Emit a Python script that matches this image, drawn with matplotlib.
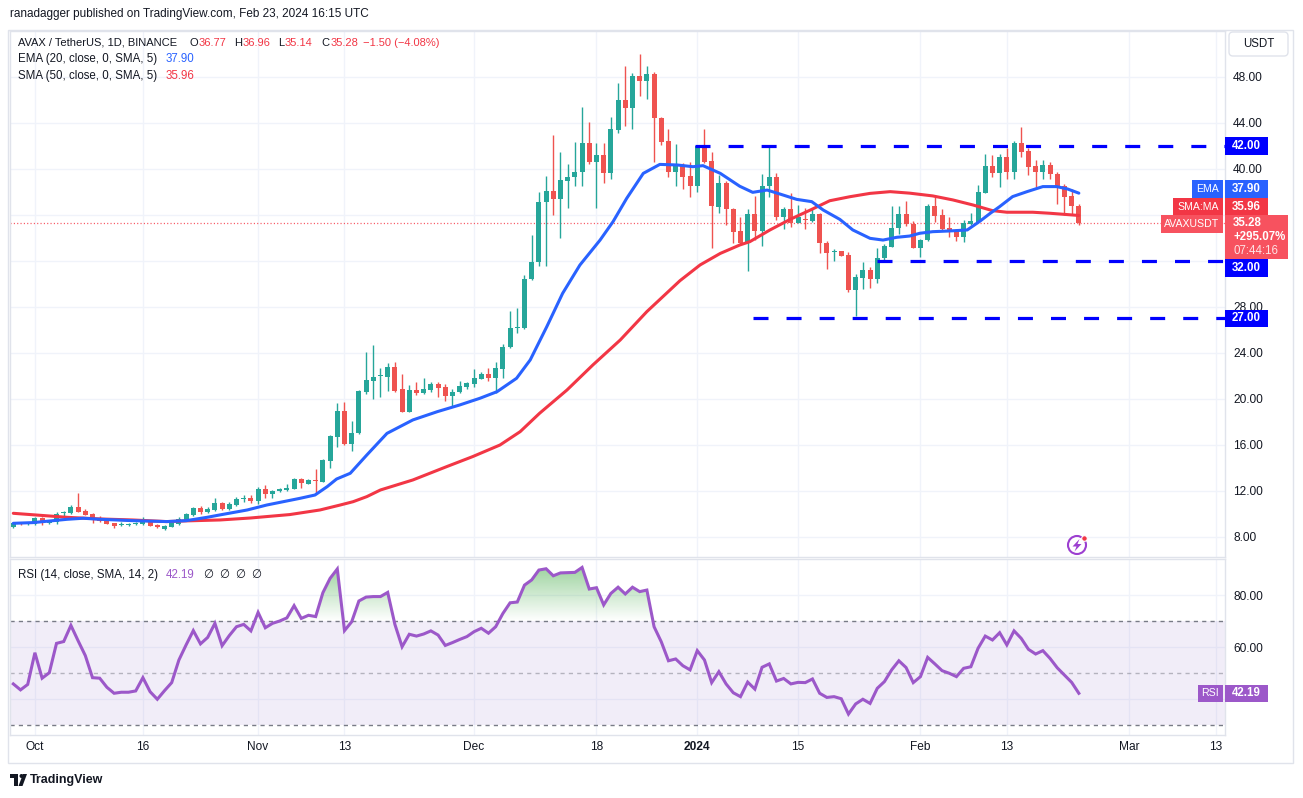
import numpy as np
import pandas as pd
import matplotlib
matplotlib.use("Agg")
import matplotlib.pyplot as plt
from matplotlib.patches import Rectangle, Circle, Polygon, FancyBboxPatch
from matplotlib.path import Path
from matplotlib.transforms import Affine2D

plt.rcParams["font.family"] = ["Liberation Sans", "DejaVu Sans"]
plt.rcParams["lines.scale_dashes"] = False

# ---- values (AVAX/USDT daily) ----
start_date = "2023-09-28"

opens = [8.84, 9.25, 9.13, 9.11, 9.63, 9.19, 9.28, 10.06, 10.06, 10.58,
         10.23, 9.97, 9.54, 9.48, 9.19, 9.00, 9.05, 9.11, 9.11, 9.28,
         9.08, 8.73, 8.90, 9.11, 9.48, 9.92, 10.50, 10.15, 10.35, 10.93,
         10.43, 10.78, 11.33, 11.39, 11.16, 12.17, 11.74, 12.00, 12.09, 12.20,
         13.01, 12.64, 12.94, 12.81, 14.64, 16.72, 18.96, 16.06, 17.00, 20.64,
         21.60, 21.97, 21.94, 22.76, 20.84, 18.90, 20.78, 20.55, 20.78, 21.30,
         21.07, 20.26, 20.58, 21.07, 21.30, 21.77, 22.14, 21.86, 22.58, 24.49,
         26.20, 26.20, 30.40, 31.88, 37.10, 38.09, 37.42, 38.98, 39.27, 39.71,
         42.29, 40.63, 41.22, 39.68, 43.42, 46.00, 45.33, 48.08, 47.68, 48.26,
         44.40, 42.43, 39.77, 40.29, 39.39, 38.55, 42.00, 40.69, 36.72, 38.75,
         36.49, 34.60, 33.59, 36.09, 34.64, 38.52, 39.27, 35.85, 36.52, 35.27,
         35.62, 35.50, 36.09, 33.54, 32.76, 32.87, 32.52, 29.48, 30.55, 31.22,
         30.43, 32.23, 33.24, 34.84, 36.09, 35.22, 33.16, 33.83, 36.79, 36.00,
         34.84, 34.61, 34.12, 35.19, 35.42, 37.95, 40.29, 39.69, 41.08, 39.71,
         42.24, 41.57, 40.27, 39.77, 40.35, 39.54, 38.55, 37.66, 36.77]
highs = [9.34, 9.34, 9.25, 9.71, 9.71, 9.40, 10.20, 10.30, 10.79, 11.86,
         10.41, 10.06, 9.83, 9.54, 9.25, 9.34, 9.19, 9.28, 9.71, 9.34,
         9.13, 9.05, 9.34, 9.71, 10.06, 10.64, 10.70, 10.58, 11.37, 11.07,
         11.01, 11.51, 11.65, 11.65, 12.32, 12.52, 12.09, 12.26, 12.61, 13.16,
         13.10, 13.04, 13.91, 14.78, 16.87, 19.68, 19.77, 18.12, 20.78, 24.06,
         24.70, 22.72, 23.10, 23.20, 22.20, 21.20, 21.51, 21.80, 21.45, 21.45,
         21.27, 20.87, 21.57, 21.51, 22.58, 22.38, 22.67, 23.25, 24.75, 27.65,
         27.88, 30.78, 34.26, 37.97, 39.40, 42.96, 41.45, 40.43, 42.37, 45.42,
         44.11, 42.29, 42.29, 44.55, 47.50, 48.95, 48.32, 49.98, 48.95, 48.46,
         44.50, 43.48, 42.17, 40.49, 40.58, 42.08, 43.48, 41.45, 39.48, 38.96,
         36.60, 35.80, 36.52, 37.65, 39.56, 41.94, 39.62, 36.67, 37.88, 36.87,
         36.58, 36.49, 36.15, 33.74, 33.04, 32.90, 32.75, 30.87, 31.88, 31.51,
         33.16, 33.50, 36.78, 36.78, 37.22, 35.51, 33.90, 36.93, 37.60, 36.50,
         35.86, 34.79, 35.57, 36.15, 38.61, 41.31, 41.22, 41.31, 41.86, 42.47,
         43.63, 41.86, 40.79, 40.79, 40.64, 39.77, 38.67, 38.27, 36.96]
lows = [8.76, 9.02, 9.08, 9.05, 9.05, 9.13, 9.11, 9.83, 10.00, 10.15,
        9.89, 9.25, 9.28, 9.13, 8.82, 8.99, 8.99, 9.05, 9.05, 8.96,
        8.82, 8.64, 8.85, 9.05, 9.42, 9.83, 9.97, 10.12, 10.29, 10.35,
        10.35, 10.72, 11.01, 10.93, 10.87, 11.42, 11.42, 11.91, 12.03, 12.17,
        12.29, 12.58, 11.80, 12.75, 13.97, 15.86, 16.00, 15.50, 16.96, 20.43,
        20.00, 20.20, 20.70, 20.60, 18.85, 18.85, 20.35, 20.43, 20.64, 20.14,
        19.86, 19.42, 20.49, 20.84, 21.07, 21.71, 21.60, 20.50, 21.80, 24.46,
        25.70, 26.06, 30.35, 31.60, 31.60, 36.00, 34.03, 36.58, 38.55, 38.55,
        40.40, 36.58, 38.80, 39.13, 43.16, 43.77, 43.45, 46.37, 46.06, 40.63,
        42.10, 39.33, 38.55, 38.23, 37.60, 38.00, 40.49, 33.10, 36.14, 35.13,
        33.53, 33.39, 31.16, 33.82, 33.33, 37.59, 35.60, 34.75, 34.98, 35.27,
        34.78, 35.42, 32.72, 31.27, 32.03, 32.40, 29.33, 27.25, 29.54, 29.68,
        30.11, 32.10, 33.19, 34.35, 35.08, 33.10, 32.38, 33.74, 35.37, 34.70,
        34.12, 33.74, 33.69, 35.13, 35.37, 37.89, 39.34, 38.47, 39.13, 39.13,
        41.08, 39.48, 38.47, 39.13, 39.13, 36.93, 36.00, 36.09, 35.14]
closes = [9.25, 9.11, 9.19, 9.63, 9.19, 9.34, 9.97, 10.15, 10.58, 10.20,
          9.92, 9.48, 9.42, 9.16, 8.99, 9.02, 9.11, 9.16, 9.40, 8.99,
          8.84, 8.96, 9.25, 9.54, 10.00, 10.50, 10.15, 10.44, 10.93, 10.43,
          10.87, 11.30, 11.36, 11.13, 12.17, 11.77, 12.00, 12.17, 12.26, 13.04,
          12.67, 12.96, 12.90, 14.70, 16.78, 18.96, 16.06, 17.00, 20.70, 21.65,
          21.94, 22.00, 22.78, 20.73, 18.90, 20.78, 20.55, 20.87, 21.30, 20.99,
          20.26, 20.58, 21.13, 21.36, 21.80, 22.14, 21.86, 22.67, 24.49, 26.14,
          26.23, 30.40, 31.88, 37.10, 38.09, 37.42, 39.04, 39.28, 39.77, 42.29,
          40.63, 41.22, 39.68, 43.48, 46.00, 45.33, 48.08, 47.68, 48.26, 44.40,
          42.37, 39.77, 40.29, 39.33, 38.55, 42.00, 40.63, 36.81, 38.75, 36.49,
          34.55, 33.59, 36.09, 34.64, 38.52, 39.27, 35.85, 36.52, 35.27, 35.80,
          35.56, 36.09, 33.54, 32.72, 32.82, 32.43, 29.48, 30.64, 31.22, 30.43,
          32.29, 33.30, 34.90, 36.09, 35.19, 33.16, 33.83, 36.79, 35.95, 34.79,
          34.50, 34.12, 35.28, 35.48, 37.98, 40.29, 39.69, 41.08, 39.71, 42.24,
          41.51, 40.21, 39.77, 40.35, 39.54, 38.47, 37.60, 36.78, 35.28]

rsi = [45.8, 43.5, 45.6, 57.8, 48.0, 50.1, 61.4, 62.1, 68.3, 62.4,
       56.7, 48.2, 48.0, 44.5, 42.2, 42.6, 42.6, 43.1, 48.2, 42.8,
       39.9, 43.2, 46.3, 55.0, 60.8, 66.3, 61.2, 63.7, 69.1, 60.5,
       64.4, 67.8, 68.7, 66.2, 73.3, 67.4, 69.1, 70.0, 71.2, 75.9,
       71.0, 72.2, 71.7, 80.9, 86.4, 90.0, 66.3, 69.7, 77.7, 79.2,
       79.4, 79.4, 81.0, 68.7, 60.1, 64.9, 64.2, 65.0, 66.2, 64.6,
       60.6, 61.7, 62.9, 64.0, 65.9, 67.2, 65.3, 67.8, 72.9, 77.0,
       77.3, 83.8, 85.8, 89.6, 90.1, 87.4, 88.5, 88.6, 88.7, 90.6,
       82.3, 82.8, 76.2, 80.6, 83.0, 80.4, 83.0, 81.3, 81.9, 67.8,
       62.0, 54.7, 55.4, 52.8, 51.2, 58.6, 55.0, 46.3, 50.5, 45.8,
       42.4, 40.9, 46.5, 43.8, 52.2, 53.5, 46.9, 47.9, 45.8, 46.4,
       46.3, 47.7, 42.2, 40.6, 40.9, 40.1, 34.2, 38.1, 39.9, 38.3,
       44.1, 46.7, 51.2, 54.7, 52.1, 46.3, 48.6, 56.0, 53.5, 50.9,
       49.9, 48.6, 51.8, 52.4, 59.5, 64.2, 62.7, 65.5, 60.8, 66.2,
       63.3, 59.1, 57.3, 58.6, 55.6, 52.0, 49.2, 46.4, 42.19]

# EMA 20 and SMA 50 as traced on the chart (day offset from start, value)
ema_day = [0, 2.7, 7.5, 9.7, 12, 16.6, 21.3, 24, 26.9, 28.7, 32.5, 35.2, 39.8,
           41.9, 43.6, 44.9, 46.8, 49.1, 51.9, 55.5, 58.9, 62, 64.8, 67.2, 69.9,
           71.8, 74.1, 76.3, 78.7, 81.5, 83.3, 85.2, 87.5, 89.8, 92.2, 94.4, 95.8,
           98.2, 100.9, 102.7, 104.7, 106.5, 108.8, 110.9, 112.5, 114.8, 116.6,
           119, 120.8, 122.7, 124.5, 125.9, 127.7, 130, 132.5, 134.3, 135.7, 137,
           138.8, 140.8, 143, 144.9, 146.4, 148]
ema_val = [9.19, 9.25, 9.54, 9.63, 9.54, 9.42, 9.34, 9.42, 9.71, 9.92, 10.35,
           10.78, 11.36, 11.65, 12.38, 13.04, 13.54, 15.13, 17.01, 18.18, 18.90,
           19.48, 20.06, 20.64, 21.80, 23.40, 26.29, 29.19, 31.65, 33.82, 35.42,
           37.45, 39.62, 40.40, 40.35, 40.20, 40.29, 39.62, 38.50, 37.97, 38.17,
           37.82, 37.36, 37.16, 36.43, 35.62, 34.70, 33.97, 33.82, 34.06, 34.17,
           34.41, 34.55, 34.61, 34.70, 35.48, 36.15, 36.73, 37.60, 38.03, 38.47,
           38.47, 38.27, 37.90]
sma_day = [0, 7.5, 12, 16.6, 21.3, 24, 28.7, 32.9, 38.4, 42.6, 45.4, 47.2, 49.1,
           51, 55.5, 60.2, 63.8, 67.6, 70.4, 73.1, 76.9, 80.5, 84.3, 88, 92.6,
           95.4, 98.2, 100.9, 102.3, 105.1, 107.9, 110.7, 113.4, 116.2, 119,
           121.8, 124.5, 127.7, 130.5, 133.3, 136, 138, 141.6, 144, 148]
sma_val = [10.06, 9.71, 9.57, 9.48, 9.34, 9.40, 9.48, 9.65, 9.95, 10.35, 10.78,
           11.07, 11.51, 12.09, 12.96, 14.12, 14.99, 16.00, 17.16, 18.76, 20.78,
           22.96, 25.13, 27.60, 30.29, 31.66, 32.66, 33.39, 33.68, 34.70, 35.62,
           36.43, 37.24, 37.59, 37.88, 38.03, 37.90, 37.66, 37.31, 36.87, 36.38,
           36.24, 36.24, 36.15, 35.96]

levels = [42.0, 32.0, 27.0]
level_from = [94.7, 119.9, 102.7]

tick_dates = ["2023-10-01", "2023-10-16", "2023-11-01", "2023-11-13", "2023-12-01",
              "2023-12-18", "2024-01-01", "2024-01-15", "2024-02-01", "2024-02-13",
              "2024-03-01", "2024-03-13"]
tick_labels = ["Oct", "16", "Nov", "13", "Dec", "18", "2024", "15", "Feb", "13",
               "Mar", "13"]
price_ticks = [8, 12, 16, 20, 24, 28, 32, 36, 40, 44, 48]
price_hidden = [32, 36]          # covered by the tags on the price scale
rsi_ticks = [40, 60, 80]
rsi_hidden = [40]

ema_last, sma_last, rsi_last = 37.90, 35.96, 42.19
change_text = "+295.07%"
countdown = "07:44:16"

# ---- colours ----
GREEN, RED = "#26A69A", "#EF5350"
EMA_C, SMA_C = "#2962FF", "#F23645"
PRICE_C = "#F7525F"
LEVEL_C = "#0000FF"
RSI_C = "#9C58C9"
TXT = "#131722"
GRID = "#f0f3fa"
BORDER = "#e0e3eb"

W, H = 1303, 798
fig = plt.figure(figsize=(W / 100, H / 100), dpi=100, facecolor="white")
pix = Affine2D().scale(1, -1).translate(0, H)  # top-left pixel coords for overlays


def frac(x0, y0, x1, y1):
    return [x0 / W, 1 - y1 / H, (x1 - x0) / W, (y1 - y0) / H]


ax = fig.add_axes(frac(10, 31, 1225, 557))
ax2 = fig.add_axes(frac(10, 559, 1225, 735))

o, h, l, c = (np.array(v) for v in (opens, highs, lows, closes))
x = np.arange(len(c))
r = np.array(rsi)
t0 = pd.Timestamp(start_date)
tick_pos = [(pd.Timestamp(d) - t0).days for d in tick_dates]
xmin, xmax = -0.46, 168.3

for a in (ax, ax2):
    for s in a.spines.values():
        s.set_color(BORDER)
        s.set_linewidth(1)
    a.set_facecolor("white")
    a.grid(True, color=GRID, lw=1)
    a.set_axisbelow(True)
    a.yaxis.tick_right()
    a.tick_params(axis="y", length=0, pad=5.8, labelsize=8.6, labelcolor=TXT)
    a.tick_params(axis="x", length=0)
    a.set_xticks(tick_pos)

ax.tick_params(axis="x", labelbottom=False)
ax2.set_xticklabels(tick_labels)
ax2.tick_params(axis="x", pad=4, labelsize=8.6, labelcolor=TXT)
for lbl in ax2.get_xticklabels():
    if lbl.get_text() == "2024":
        lbl.set_fontweight("bold")

# ---- candles ----
up = c >= o
colors = np.where(up, GREEN, RED)
ax.vlines(x, l, h, colors=colors, lw=1.0, zorder=3)
ax.bar(x, np.maximum(np.abs(c - o), 0.09), 0.7, bottom=np.minimum(o, c),
       color=colors, linewidth=0, zorder=4)

ax.plot(sma_day, sma_val, color=SMA_C, lw=2.2, zorder=5, solid_capstyle="round")
ax.plot(ema_day, ema_val, color=EMA_C, lw=2.2, zorder=5, solid_capstyle="round")

for lv, fr in zip(levels, level_from):
    ax.plot([fr, xmax + 2], [lv, lv], color=LEVEL_C, lw=2.3, dashes=(10.8, 13),
            zorder=6)

ax.axhline(c[-1], color=PRICE_C, lw=0.9, dashes=(0.8, 1.6), zorder=2)

ax.set_xlim(xmin, xmax)
ax.set_ylim(6.26, 52.0)
ax.set_yticks(price_ticks,
              ["" if v in price_hidden else f"{v:.2f}" for v in price_ticks])

# ---- RSI pane ----
ax2.axhspan(30, 70, facecolor="#7E57C2", alpha=0.1, lw=0, zorder=1)
for lv, al in ((70, 1.0), (50, 0.5), (30, 1.0)):
    ax2.axhline(lv, color="#787B86", lw=1, dashes=(3, 3), alpha=al, zorder=2)

fb = ax2.fill_between(x, r, 70, where=r >= 70, interpolate=True,
                      facecolor="none", edgecolor="none")
grad = np.zeros((256, 1, 4))
grad[..., 0], grad[..., 1], grad[..., 2] = 76 / 255, 175 / 255, 80 / 255
grad[:, 0, 3] = np.linspace(0.8, 0.0, 256)
im = ax2.imshow(grad, extent=[x[0], x[-1], 70, 100], aspect="auto",
                origin="upper", zorder=2, interpolation="bilinear")
im.set_clip_path(Path.make_compound_path(*fb.get_paths()), transform=ax2.transData)

ax2.plot(x, r, color=RSI_C, lw=2.2, zorder=4, solid_joinstyle="miter")
ax2.set_xlim(xmin, xmax)
ax2.set_ylim(26.15, 93.85)
ax2.set_yticks(rsi_ticks,
               ["" if v in rsi_hidden else f"{v:.2f}" for v in rsi_ticks])

# ---- overlays in pixel coordinates ----
fig.add_artist(Rectangle((8, 30), 1285, 733, transform=pix, facecolor="none",
                         edgecolor=BORDER, lw=1, zorder=1))


def py_of(axis, val):
    return H - axis.transData.transform((0, val))[1]


def box(x0, x1, yc, text, color, fs=8.3, weight="bold", hh=17.5):
    fig.add_artist(Rectangle((x0, yc - hh / 2), x1 - x0, hh, transform=pix,
                             facecolor=color, edgecolor="none", zorder=5))
    fig.text((x0 + x1) / 2, yc, text, transform=pix, color="white", fontsize=fs,
             fontweight=weight, ha="center", va="center", zorder=6)


BH = 17.5
ptop = py_of(ax, c[-1]) - 8
pbot = ptop + 44
fig.add_artist(Rectangle((1225, ptop), 63, 44, transform=pix, facecolor=PRICE_C,
                         edgecolor="none", zorder=5))
fig.text(1233, ptop + 8, f"{c[-1]:.2f}", transform=pix, color="white",
         fontsize=8.3, fontweight="bold", va="center", zorder=6)
fig.text(1233, ptop + 22, change_text, transform=pix, color="white",
         fontsize=8.3, fontweight="bold", va="center", zorder=6)
fig.text(1233, ptop + 35.5, countdown, transform=pix, color="#fde2e4",
         fontsize=8.3, va="center", zorder=6)
box(1161, 1223, ptop + BH / 2, "AVAXUSDT", PRICE_C, fs=7.6, weight="normal")

sma_c = min(py_of(ax, sma_last), ptop - BH / 2)
box(1225, 1268, sma_c, f"{sma_last:.2f}", SMA_C)
box(1173, 1223, sma_c, "SMA:MA", SMA_C, fs=7.6, weight="normal")
ema_c = min(py_of(ax, ema_last), sma_c - BH)
box(1225, 1268, ema_c, f"{ema_last:.2f}", EMA_C)
box(1192, 1223, ema_c, "EMA", EMA_C, fs=7.6, weight="normal")

box(1225, 1268, py_of(ax, levels[0]), f"{levels[0]:.2f}", LEVEL_C)
box(1225, 1268, max(py_of(ax, levels[1]), pbot + BH / 2), f"{levels[1]:.2f}", LEVEL_C)
box(1225, 1268, py_of(ax, levels[2]), f"{levels[2]:.2f}", LEVEL_C)

rsi_c = py_of(ax2, rsi_last)
box(1225, 1268, rsi_c, f"{rsi_last:.2f}", RSI_C)
box(1198, 1223, rsi_c, "RSI", RSI_C, fs=7.6, weight="normal")

# USDT button
fig.add_artist(FancyBboxPatch((1229, 32), 59, 24, transform=pix,
                              boxstyle="round,pad=0,rounding_size=4",
                              facecolor="white", edgecolor=BORDER, lw=1, zorder=5))
fig.text(1258.5, 44, "USDT", transform=pix, color=TXT, fontsize=8.3,
         ha="center", va="center", zorder=6)

# legends
fs = 8.3
renderer = fig.canvas.get_renderer()
fig.text(10, 14, "ranadagger published on TradingView.com, Feb 23, 2024 16:15 UTC",
         transform=pix, color=TXT, fontsize=8.5, va="center")
fig.text(18, 42.7, "AVAX / TetherUS, 1D, BINANCE", transform=pix, color=TXT,
         fontsize=8.0, va="center")
for lx, letter, val in ((189, "O", o[-1]), (234, "H", h[-1]),
                        (278, "L", l[-1]), (321.5, "C", c[-1])):
    t = fig.text(lx, 42.7, letter, transform=pix, color=TXT, fontsize=8.0,
                 va="center")
    vx = t.get_window_extent(renderer).x1 + 0.5
    fig.text(vx, 42.7, f"{val:.2f}", transform=pix, color=SMA_C, fontsize=8.0,
             va="center")
chg = c[-1] - c[-2]
fig.text(363, 42.7, f"\u2212{abs(chg):.2f} (\u2212{abs(chg) / c[-2] * 100:.2f}%)",
         transform=pix, color=SMA_C, fontsize=8.0, va="center")
fig.text(18, 59.3, "EMA (20, close, 0, SMA, 5)", transform=pix, color=TXT,
         fontsize=fs, va="center")
fig.text(165.5, 59.3, f"{ema_last:.2f}", transform=pix, color=EMA_C, fontsize=fs,
         va="center")
fig.text(18, 75.7, "SMA (50, close, 0, SMA, 5)", transform=pix, color=TXT,
         fontsize=fs, va="center")
fig.text(165.5, 75.7, f"{sma_last:.2f}", transform=pix, color=SMA_C, fontsize=fs,
         va="center")
fig.text(18.5, 575, "RSI (14, close, SMA, 14, 2)", transform=pix, color=TXT,
         fontsize=fs, va="center")
fig.text(166, 575, f"{rsi_last:.2f}", transform=pix, color=RSI_C, fontsize=fs,
         va="center")
for ex in (203.5, 219.5, 235.5, 251.5):
    fig.text(ex, 575, "\u2205", transform=pix, color=TXT, fontsize=fs, va="center")

# lightning badge
fig.add_artist(Circle((1077, 545), 9, transform=pix, facecolor="white",
                      edgecolor="#9C3FD0", lw=1.5, zorder=5))
fig.add_artist(Polygon([(1079.5, 539), (1072.5, 546.5), (1076.5, 546.5),
                        (1074.5, 551.5), (1081.5, 544), (1077.5, 544)],
                       closed=True, transform=pix, facecolor="#9C3FD0",
                       edgecolor="none", zorder=6))
fig.add_artist(Circle((1084.5, 538.5), 2.8, transform=pix, facecolor="#F23645",
                      edgecolor="white", lw=0.8, zorder=7))

# TradingView footer logo
logo = "#131722"
fig.add_artist(Rectangle((10, 774), 8, 4, transform=pix, facecolor=logo, zorder=5))
fig.add_artist(Rectangle((14, 774), 4, 12, transform=pix, facecolor=logo, zorder=5))
fig.add_artist(Circle((21.5, 776), 2, transform=pix, facecolor=logo, zorder=5))
fig.add_artist(Polygon([(18.5, 786), (22.5, 786), (27, 774), (23, 774)], closed=True,
                       transform=pix, facecolor=logo, zorder=5))
fig.text(30, 779.5, "TradingView", transform=pix, color=logo, fontsize=9,
         fontweight="bold", va="center")

fig.savefig("out.png", dpi=100, facecolor="white")
